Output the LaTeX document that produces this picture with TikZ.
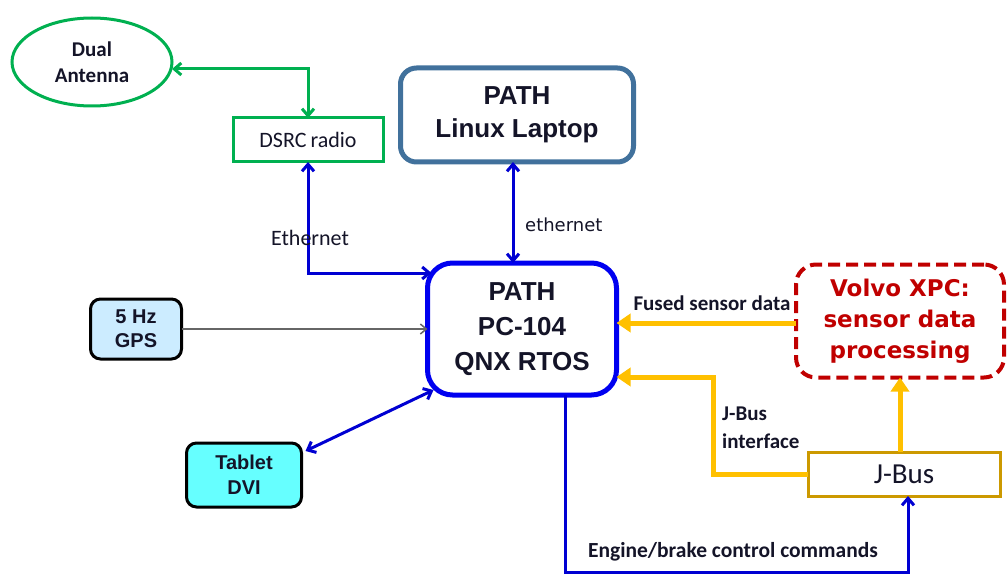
\documentclass[tikz,border=0pt]{standalone}
\usepackage{fontspec}
\usepackage{tikz}
\usetikzlibrary{arrows.meta}
\usetikzlibrary{shapes.geometric}

\newfontfamily\arialfont{Liberation Sans}
\newfontfamily\calfont{Carlito}
\newfontfamily\verdfont{DejaVu Sans}

\definecolor{antgreen}{RGB}{0,176,80}
\definecolor{laptopblue}{RGB}{65,113,156}
\definecolor{pcblue}{RGB}{0,0,240}
\definecolor{linkblue}{RGB}{0,0,210}
\definecolor{fuseorange}{RGB}{255,192,0}
\definecolor{xpcred}{RGB}{192,0,0}
\definecolor{jbusgold}{RGB}{204,153,0}
\definecolor{gpsfill}{RGB}{204,236,255}
\definecolor{tabletfill}{RGB}{102,255,255}
\definecolor{txt}{RGB}{20,20,40}

\begin{document}
\begin{tikzpicture}[x=1pt,y=-1pt,
    box/.style={draw,outer sep=0pt,inner sep=2pt,align=center,text=txt},
    thinlink/.style={line width=3pt,-{Straight Barb[length=7pt,width=12pt]}},
    duallink/.style={line width=3pt,{Straight Barb[length=7pt,width=12pt]}-{Straight Barb[length=7pt,width=12pt]}},
    fuselink/.style={draw=fuseorange,line width=5pt,-{Triangle[length=14pt,width=18pt]}},
    lbl/.style={text=txt,inner sep=0pt}]
            \useasboundingbox (0,0) rectangle (1007,575);

            % Place the boxes
            \node[box,ellipse,draw=antgreen,line width=3pt,minimum width=160pt,minimum height=88pt,
                  font=\calfont\bfseries\fontsize{21}{26}\selectfont] (ant) at (92,62) {Dual\\Antenna};
            \node[box,draw=antgreen,line width=3pt,minimum width=150pt,minimum height=44pt,
                  font=\calfont\fontsize{22}{24}\selectfont] (dsrc) at (308,140) {DSRC\hspace{-1pt} radio};
            \node[box,draw=laptopblue,line width=5pt,rounded corners=16pt,minimum width=233pt,minimum height=94pt,
                  font=\arialfont\bfseries\fontsize{26}{33}\selectfont] (laptop) at (517,115) {PATH\\Linux Laptop};
            \node[box,draw=pcblue,line width=5pt,rounded corners=25pt,minimum width=189pt,minimum height=132pt,
                  font=\arialfont\bfseries\fontsize{26}{35}\selectfont] (pc) at (522,329) {PATH\\PC-104\\QNX RTOS};
            \node[box,fill=gpsfill,line width=3pt,rounded corners=10pt,minimum width=91pt,minimum height=60pt,
                  font=\arialfont\bfseries\fontsize{20}{24}\selectfont] (gps) at (136,329) {5 Hz\\GPS};
            \node[box,fill=tabletfill,line width=3pt,rounded corners=10pt,minimum width=115pt,minimum height=64pt,
                  font=\arialfont\bfseries\fontsize{20}{25}\selectfont] (tablet) at (244,475) {Tablet\\DVI};
            \node[box,draw=xpcred,dashed,dash pattern=on 12pt off 6pt,line width=4pt,rounded corners=20pt,
                  minimum width=208pt,minimum height=113pt,text=xpcred,
                  font=\verdfont\bfseries\fontsize{23}{31}\selectfont] (xpc) at (900,321) {Volvo XPC:\\sensor data\\processing};
            \node[box,draw=jbusgold,line width=3pt,minimum width=192pt,minimum height=44pt,
                  font=\calfont\fontsize{29}{30}\selectfont] (jbus) at (904,474) {J-Bus};

            % Bend points
            \coordinate (jb) at (713,377);
            \coordinate (cmd) at (908,572);

            % The lines!
            \draw[duallink,draw=antgreen] ([yshift=-7pt]ant.east) -| (dsrc.north);
            \draw[duallink,draw=linkblue] (dsrc.south) |- ([xshift=4pt,yshift=56pt]pc.west);
            \draw[duallink,draw=linkblue] ([xshift=-4pt]laptop.south) -- ([xshift=-4pt]laptop.south |- pc.north);
            \draw[gray!80!black,line width=1.5pt,-{Straight Barb[length=6pt,width=10pt]}] (gps.east) -- (pc.west);
            \draw[duallink,draw=linkblue] ([xshift=4pt,yshift=-8pt]tablet.north east) -- ([xshift=6pt,yshift=5pt]pc.south west);
            \draw[fuselink] ([yshift=-2pt]xpc.west) -- ([yshift=-2pt]xpc.west -| pc.east);
            \draw[fuselink] (jbus.west) -| (jb) -- (jb -| pc.east);
            \draw[fuselink] (jbus.north -| xpc.south) -- (xpc.south);
            \draw[thinlink,draw=linkblue] ([xshift=43pt]pc.south) |- (cmd) -- (cmd |- jbus.south);

            % Labels
            \node[lbl,font=\calfont\fontsize{22}{24}\selectfont] (ethlbl) at (310,238) {Ethernet};
            \node[lbl,anchor=west,font=\verdfont\fontsize{18}{20}\selectfont] (ethlbl2) at (525,225) {ethernet};
            \node[lbl,font=\calfont\bfseries\fontsize{21}{23}\selectfont] (fuselbl) at (712,303) {Fused sensor data};
            \node[lbl,anchor=west,align=left,font=\calfont\bfseries\fontsize{21}{28}\selectfont] (jblbl) at (722,428) {J-Bus\\interface};
            \node[lbl,font=\calfont\bfseries\fontsize{21.5}{23}\selectfont] (cmdlbl) at (733,552) {Engine/brake control commands};
        \end{tikzpicture}
\end{document}
